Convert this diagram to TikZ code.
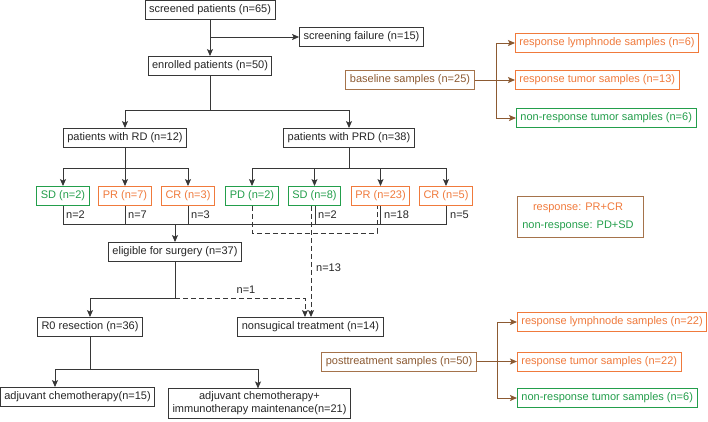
\documentclass[tikz,border=0pt]{standalone}
\usepackage{fontspec}
\setmainfont{Liberation Sans}
\usetikzlibrary{arrows.meta,calc}
\definecolor{org}{RGB}{240,122,60}
\definecolor{grn}{RGB}{35,158,75}
\definecolor{brn}{RGB}{165,115,75}
\definecolor{brntxt}{RGB}{140,90,50}
\definecolor{ln}{RGB}{55,55,55}
\begin{document}
\begin{tikzpicture}[x=1pt,y=-1pt,font=\fontsize{11}{13}\selectfont,
  box/.style={draw=ln,line width=0.9pt,minimum height=19pt,inner xsep=4pt,inner ysep=2pt,text=black!85,fill=white},
  obox/.style={box,draw=org,text=org},
  gbox/.style={box,draw=grn,text=grn},
  bbox/.style={box,draw=brn,text=brntxt},
  conn/.style={draw=ln,line width=0.9pt},
  arr/.style={conn,-{Stealth[length=7pt,width=6pt,inset=1.5pt]}},
  dsh/.style={dash pattern=on 5pt off 3pt},
  barr/.style={draw=brntxt,line width=0.9pt,-{Stealth[length=7pt,width=6pt,inset=1.5pt]}},
  lbl/.style={anchor=west,inner sep=1pt,text=black!85}]
\useasboundingbox (0,0) rectangle (708,421);
% left flow
\node[box] (screen) at (210,9.5) {screened patients (n=65)};
\node[box] (fail) at (361.5,37) {screening failure (n=15)};
\node[box] (enr) at (210,66) {enrolled patients (n=50)};
\node[box] (rd) at (125,138) {patients with RD (n=12)};
\node[box] (prd) at (349,138) {patients with PRD (n=38)};
\node[gbox] (sd1) at (63,196) {SD (n=2)};
\node[obox] (pr1) at (125,196) {PR (n=7)};
\node[obox] (cr1) at (188,196) {CR (n=3)};
\node[gbox] (pd2) at (252,196) {PD (n=2)};
\node[gbox] (sd2) at (314.5,196) {SD (n=8)};
\node[obox] (pr2) at (380.5,196) {PR (n=23)};
\node[obox] (cr2) at (446,196) {CR (n=5)};
\node[box] (elig) at (175,252) {eligible for surgery (n=37)};
\node[box] (r0) at (90,327) {R0 resection (n=36)};
\node[box] (nons) at (310.5,327) {nonsugical treatment (n=14)};
\node[box] (adj1) at (77.5,397) {adjuvant chemotherapy(n=15)};
\node[box,align=center,inner ysep=3pt] (adj2) at (259.5,403.5) {adjuvant chemotherapy+\\immunotherapy maintenance(n=21)};
% right side
\node[bbox] (base) at (410,80) {baseline samples (n=25)};
\node[obox,anchor=west] (rl1) at (515,43) {response lymphnode samples (n=6)};
\node[obox,anchor=west] (rt1) at (515,80) {response tumor samples (n=13)};
\node[gbox,anchor=west] (nr1) at (516,118) {non-response tumor samples (n=6)};
\node[draw=brn,line width=0.9pt,minimum width=126pt,minimum height=41pt] (leg) at (580,216.5) {};
\node[text=org] (legr) at (578,208) {response: PR+CR};
\node[text=grn] (legn) at (578,226) {non-response: PD+SD};
\node[bbox] (post) at (399,361.5) {posttreatment samples (n=50)};
\node[obox,anchor=west] (rl2) at (517,322) {response lymphnode samples (n=22)};
\node[obox,anchor=west] (rt2) at (517,361.5) {response tumor samples (n=22)};
\node[gbox,anchor=west] (nr2) at (517,398) {non-response tumor samples (n=6)};
% connectors
\draw[arr] (screen) -- (enr);
\coordinate (j0) at (210,37);
\draw[arr] (j0) -- (fail);
\coordinate (j1) at (210,110);
\draw[conn] (enr) -- (j1);
\draw[arr] (j1) -| (rd);
\draw[arr] (j1) -| (prd);
\coordinate (j2) at (125,168);
\draw[conn] (rd) -- (j2);
\draw[arr] (j2) -| (sd1);
\draw[arr] (j2) -- (pr1);
\draw[arr] (j2) -| (cr1);
\coordinate (j3) at (349,168);
\draw[conn] (prd) -- (j3);
\draw[arr] (j3) -| (pd2);
\draw[arr] (j3) -| (sd2);
\draw[arr] (j3) -| (pr2);
\draw[arr] (j3) -| (cr2);
% collection
\coordinate (c1) at (175,224);
\draw[conn] (sd1) |- (c1);
\draw[conn] (cr2) |- (c1);
\draw[conn] (pr1) -- (pr1 |- c1);
\draw[conn] (cr1) -- (cr1 |- c1);
\draw[conn] ([xshift=1pt]sd2.south) -- ([xshift=1pt]sd2.south |- c1);
\draw[conn] (pr2) -- (pr2 |- c1);
\draw[arr] (c1) -- (elig);
\node[lbl] (l1) at (65,215) {n=2};
\node[lbl] (l2) at (127,215) {n=7};
\node[lbl] (l3) at (190,215) {n=3};
\node[lbl] (l4) at (317,215) {n=2};
\node[lbl] (l5) at (383,215) {n=18};
\node[lbl] (l6) at (449,215) {n=5};
% dashed
\coordinate (d1) at (252,233);
\draw[conn,dsh] (pd2) -- (pd2 |- d1) -| ([xshift=-3.5pt]pr2.south);
\draw[arr,dsh] ([xshift=-3.5pt]sd2.south) -- ([xshift=-3.5pt]sd2.south |- nons.north);
\node[lbl] (l7) at (315,268) {n=13};
\coordinate (e1) at (175,298);
\draw[conn] (elig) -- (e1);
\draw[arr] (e1) -| (r0);
\draw[arr,dsh] (e1) -| ([xshift=-5.5pt]nons.north);
\node[text=black!85,inner sep=1pt] (l8) at (246,290) {n=1};
% r0
\coordinate (r1) at (90,369);
\draw[conn] (r0) -- (r1);
\draw[arr] (r1) -| ([xshift=-22.5pt]adj1.north);
\draw[arr] (r1) -| ([xshift=-1.5pt]adj2.north);
% right connectors
\coordinate (k1) at (496,80);
\draw[barr] (base) -- (rt1);
\draw[barr] (k1) |- (rl1);
\draw[barr] (k1) |- (nr1);
\coordinate (k2) at (497,361.5);
\draw[barr] (post) -- (rt2);
\draw[barr] (k2) |- (rl2);
\draw[barr] (k2) |- (nr2);
\end{tikzpicture}
\end{document}
